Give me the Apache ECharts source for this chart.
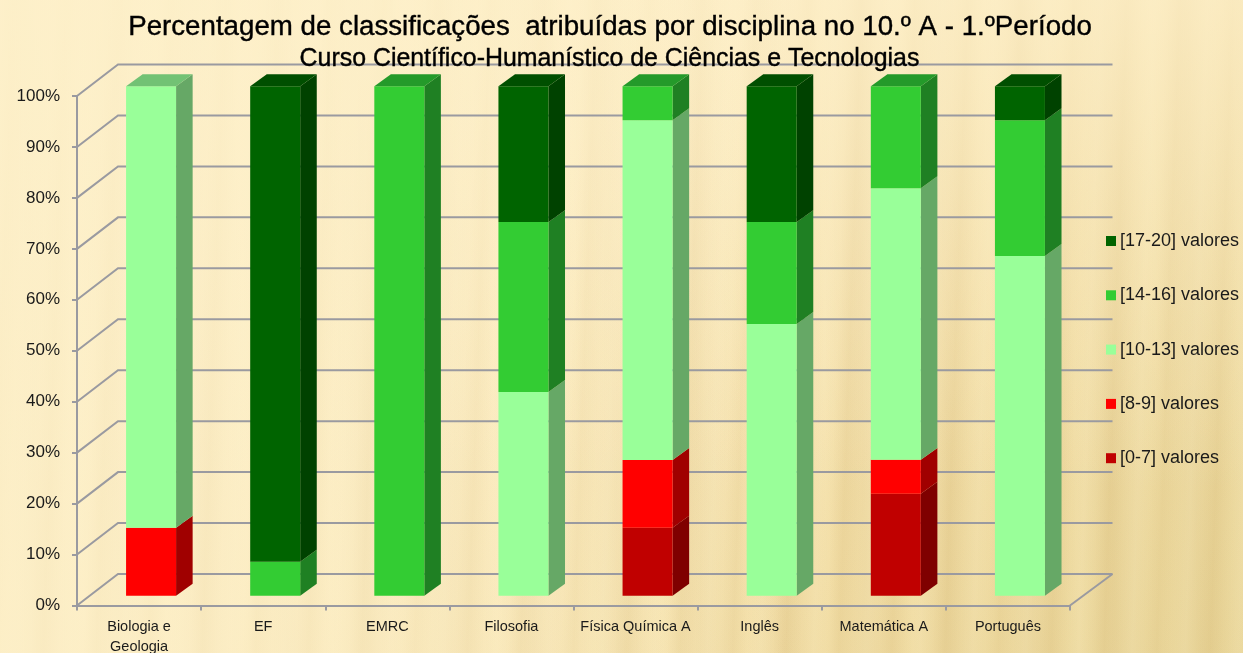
<!DOCTYPE html>
<html><head><meta charset="utf-8">
<script src="https://cdn.jsdelivr.net/npm/echarts@6/dist/echarts.min.js"></script>
<style>
html,body{margin:0;padding:0;width:1243px;height:653px;overflow:hidden}
body{background:
 linear-gradient(90deg,rgba(253,240,201,.75) 0%,rgba(253,240,201,.5) 30%,rgba(253,240,201,0) 65%),
 linear-gradient(180deg,rgba(255,241,204,.7) 0%,rgba(255,241,204,.35) 35%,rgba(255,241,204,0) 75%),
 repeating-linear-gradient(92deg,rgba(190,150,70,0) 0,rgba(190,150,70,.11) 13px,rgba(190,150,70,0) 29px,rgba(255,245,210,.12) 41px,rgba(190,150,70,0) 53px),
 repeating-linear-gradient(89deg,rgba(170,130,60,0) 0,rgba(170,130,60,.07) 37px,rgba(170,130,60,0) 83px),
 linear-gradient(125deg,#fff1cc 0%,#fbeabe 40%,#f3dfa8 72%,#ead79b 100%)}
#c{width:1243px;height:653px}
</style></head><body><div id="c"></div>
<script>
const categories=['Biologia e\nGeologia','EF','EMRC','Filosofia','Física Química A','Inglês','Matemática A','Português'];
const yTicks=[0,10,20,30,40,50,60,70,80,90,100];
const v0a7=[0,0,0,0,13.33,0,20,0];
const v8a9=[13.33,0,0,0,13.33,0,6.67,0];
const v10a13=[86.67,0,0,40,66.67,53.33,53.33,66.67];
const v14a16=[0,6.67,100,33.33,6.67,20,20,26.67];
const v17a20=[0,93.33,0,26.67,0,26.67,0,6.67];
const names=['[0-7] valores','[8-9] valores','[10-13] valores','[14-16] valores','[17-20] valores'];
const colors=['#c00000','#ff0000','#99ff99','#33cc33','#006400'];
const sideColors=['#7f0000','#a00000','#66a866','#1f8023','#004200'];
const topColors=['#900000','#b80000','#72c274','#249a2a','#004f00'];
const stacks=[v0a7,v8a9,v10a13,v14a16,v17a20];

const WALL_DX=41,WALL_DY=31.5,WALL_RIGHT_EXTRA=1.5,BAR_W=50,BAR_XSHIFT=12;
const NEAR=0.31,FAR=0.69;
const GRID_COLOR='#9a9aa0';

function barItem(k){
  return function(params,api){
    const i=api.value(0),base=api.value(1),val=api.value(2);
    if(!val) return {type:'group',children:[]};
    const p0=api.coord([i,base]),p1=api.coord([i,base+val]);
    const xf=p0[0]+BAR_XSHIFT-BAR_W/2, xr=xf+BAR_W;
    const yb=p0[1]-NEAR*WALL_DY, yt=p1[1]-NEAR*WALL_DY;
    const dx=(FAR-NEAR)*WALL_DX+1, dy=(FAR-NEAR)*WALL_DY;
    const kids=[
      {type:'polygon',shape:{points:[[xr,yb],[xr+dx,yb-dy],[xr+dx,yt-dy],[xr,yt]]},style:{fill:sideColors[k]}},
      {type:'rect',shape:{x:xf,y:yt,width:BAR_W,height:yb-yt},style:{fill:colors[k]}}
    ];
    if(base+val>99.9){
      kids.push({type:'polygon',shape:{points:[[xf,yt],[xf+dx,yt-dy],[xr+dx,yt-dy],[xr,yt]]},style:{fill:topColors[k]}});
    }
    return {type:'group',children:kids};
  };
}
const series=[{
  type:'custom',name:'grid3d',silent:true,clip:false,z:1,legendHoverLink:false,
  data:yTicks.map(t=>[0,t]),encode:{x:0,y:1},
  renderItem(params,api){
    const p=api.coord([0,api.value(1)]),bw=api.size([1,0])[0];
    const x0=p[0]-bw/2,y0=p[1],n=categories.length;
    const xEnd=x0+n*bw+WALL_DX+WALL_RIGHT_EXTRA;
    const kids=[{type:'polyline',shape:{points:[[x0,y0],[x0+WALL_DX,y0-WALL_DY],[xEnd,y0-WALL_DY]]},style:{fill:'none',stroke:GRID_COLOR,lineWidth:2}}];
    if(api.value(1)===0) kids.push({type:'line',shape:{x1:x0+n*bw,y1:y0,x2:xEnd,y2:y0-WALL_DY},style:{stroke:GRID_COLOR,lineWidth:2}});
    return {type:'group',children:kids};
  }
}];
stacks.forEach((vals,k)=>{
  series.push({
    type:'custom',name:names[k],clip:false,z:3,
    itemStyle:{color:colors[k]},
    encode:{x:0,y:[1,2]},
    data:vals.map((v,i)=>{let b=0;for(let j=0;j<k;j++)b+=stacks[j][i];return [i,b,v];}),
    renderItem:barItem(k)
  });
});
const chart=echarts.init(document.getElementById('c'));
chart.setOption({
  animation:false,
  backgroundColor:'transparent',
  title:[
   {text:'Percentagem de classificações  atribuídas por disciplina no 10.º A - 1.ºPeríodo',left:605,top:8,textAlign:'center',
    textStyle:{fontFamily:'Liberation Sans',fontSize:27.7,fontWeight:'normal',color:'#000',textBorderColor:'#000',textBorderWidth:.4}},
   {text:'Curso Científico-Humanístico de Ciências e Tecnologias',left:604.5,top:42,textAlign:'center',
    textStyle:{fontFamily:'Liberation Sans',fontSize:24.9,fontWeight:'normal',color:'#000',textBorderColor:'#000',textBorderWidth:.4}}
  ],
  legend:{orient:'vertical',left:1101,top:227,itemWidth:10,itemHeight:10,itemGap:36.3,icon:'rect',selectedMode:false,
    data:names.slice().reverse(),
    textStyle:{fontFamily:'Liberation Sans',fontSize:18,color:'#1a1a1a',padding:[0,0,0,-1]}},
  grid:{left:77,right:173,top:96,bottom:47.5,containLabel:false,outerBoundsMode:'none'},
  xAxis:{type:'category',data:categories,
    axisLine:{lineStyle:{color:GRID_COLOR,width:2}},
    axisTick:{show:true,length:5,alignWithLabel:false,lineStyle:{color:GRID_COLOR,width:2}},
    axisLabel:{interval:0,margin:11,fontFamily:'Liberation Sans',fontSize:14.5,lineHeight:20,color:'#1a1a1a'},
    splitLine:{show:false}},
  yAxis:{type:'value',min:0,max:100,interval:10,
    axisLine:{show:true,lineStyle:{color:GRID_COLOR,width:2}},
    axisTick:{show:true,length:5,lineStyle:{color:GRID_COLOR,width:2}},
    axisLabel:{formatter:'{value}%',margin:17,padding:[2,0,0,0],fontFamily:'Liberation Sans',fontSize:17,color:'#1a1a1a'},
    splitLine:{show:false}},
  series
});
</script></body></html>
